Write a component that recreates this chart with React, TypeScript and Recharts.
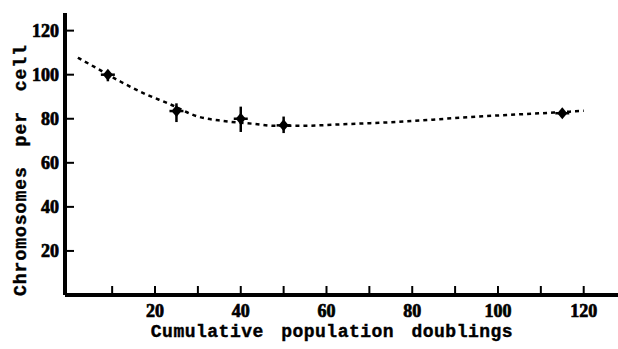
import { ComposedChart, Line, Scatter, ErrorBar, XAxis, YAxis, ReferenceLine } from 'recharts';

// measured points (cumulative doublings vs chromosomes per cell)
const pointX = [9, 25, 40, 50, 115];
const pointY = [100, 83.5, 80, 77, 82.5];
const errLow = [3, 5, 6, 3.5, 1.5];
const errHigh = [1.5, 3.5, 5.5, 4, 1.5];

// dashed trend curve
const fitX = [2, 7, 12, 18, 23, 30, 36, 43, 48, 54, 65, 77, 90, 100, 113, 120];
const fitY = [107.7, 102.3, 96.8, 91, 87, 81, 79, 77.7, 76.8, 76.8, 77.6, 78.6, 80.3, 81.5, 82.8, 83.6];

const xTicks = [10, 20, 30, 40, 50, 60, 70, 80, 90, 100, 110, 120];
const yTicks = [10, 20, 30, 40, 50, 60, 70, 80, 90, 100, 110, 120];

const points = pointX.map((x, i) => ({ x, y: pointY[i], err: [errLow[i], errHigh[i]] }));
const fit = fitX.map((x, i) => ({ x, fit: fitY[i] }));

const tickFont = '"Liberation Serif", serif';
const titleFont = '"Liberation Mono", "DejaVu Sans Mono", monospace';
const labelStyle = { fontFamily: tickFont, fontWeight: 700, fontSize: 18, fill: '#000', stroke: '#000', strokeWidth: 0.7 };

// ticks point inward; only every 20 is labelled
const renderXTick = ({ x, y, payload }: any) => (
  <g>
    <line x1={x} x2={x} y1={y - 2} y2={y - 9} stroke="#000" strokeWidth={2} />
    {payload.value % 20 === 0 && (
      <text x={x} y={y + 22} textAnchor="middle" style={labelStyle}>
        {payload.value}
      </text>
    )}
  </g>
);

const renderYTick = ({ x, y, payload }: any) => (
  <g>
    <line x1={x + 2} x2={x + 9} y1={y} y2={y} stroke="#000" strokeWidth={2} />
    {payload.value % 20 === 0 && (
      <text x={x - 6} y={y + 6} textAnchor="end" style={labelStyle}>
        {payload.value}
      </text>
    )}
  </g>
);

const Marker = ({ cx, cy }: any) => (
  <g>
    <path d={`M${cx},${cy - 6} L${cx + 5},${cy} L${cx},${cy + 6} L${cx - 5},${cy} Z`} fill="#000" />
    <line x1={cx - 7} x2={cx + 7} y1={cy} y2={cy} stroke="#000" strokeWidth={2.5} />
  </g>
);

export default function App() {
  return (
    <div style={{ position: 'absolute', left: 0, top: 0, background: '#fff' }}>
      <ComposedChart width={618} height={349} margin={{ top: 13, right: 0, bottom: 14, left: 5 }}>
        <XAxis
          type="number"
          dataKey="x"
          domain={[-1, 128]}
          ticks={xTicks}
          tick={renderXTick}
          tickLine={false}
          axisLine={false}
          tickSize={0}
          tickMargin={0}
          height={40}
          allowDataOverflow
        />
        <YAxis
          type="number"
          domain={[0, 128]}
          ticks={yTicks}
          tick={renderYTick}
          tickLine={false}
          axisLine={false}
          tickSize={0}
          tickMargin={0}
          width={60}
          allowDataOverflow
        />
        <ReferenceLine x={-1} stroke="#000" strokeWidth={4} />
        <ReferenceLine y={0} stroke="#000" strokeWidth={4} />
        <Line
          data={fit}
          dataKey="fit"
          type="monotone"
          stroke="#000"
          strokeWidth={2.5}
          strokeDasharray="4 4"
          dot={false}
          isAnimationActive={false}
        />
        <Scatter data={points} dataKey="y" shape={<Marker />} isAnimationActive={false}>
          <ErrorBar dataKey="err" direction="y" width={0} stroke="#000" strokeWidth={2.5} />
        </Scatter>
      </ComposedChart>
      <div
        style={{
          position: 'absolute',
          left: 0,
          top: 322,
          width: 664,
          textAlign: 'center',
          fontFamily: titleFont,
          fontWeight: 'bold',
          fontSize: 18,
          letterSpacing: 0.5,
          wordSpacing: 6,
          WebkitTextStroke: '0.4px #000',
        }}
      >
        Cumulative population doublings
      </div>
      <div
        style={{
          position: 'absolute',
          left: 21,
          top: 170,
          transform: 'translate(-50%, -50%) rotate(-90deg)',
          whiteSpace: 'nowrap',
          fontFamily: titleFont,
          fontWeight: 'bold',
          fontSize: 18,
          letterSpacing: 1,
          wordSpacing: 8,
          WebkitTextStroke: '0.4px #000',
        }}
      >
        Chromosomes per cell
      </div>
    </div>
  );
}
